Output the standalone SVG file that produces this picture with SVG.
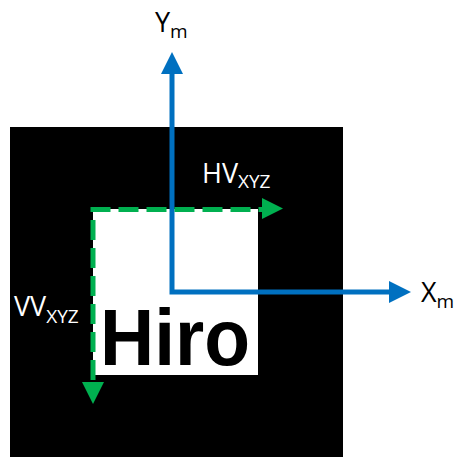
<svg xmlns="http://www.w3.org/2000/svg" width="457" height="457" viewBox="0 0 457 457">
<style>
.lbl{font-family:"Open Sans","Noto Sans",sans-serif;font-size:27px}
.sub{font-size:19px}
.blue{stroke:#0070c0;stroke-width:5;fill:none}
.green{stroke:#00b050;stroke-width:5;fill:none;stroke-dasharray:20 8}
</style>
<rect width="457" height="457" fill="#fff"/>
<g id="marker">
<rect x="10" y="127" width="333" height="330" fill="#000"/>
<rect x="93" y="209" width="165" height="166" fill="#fff"/>
<text x="100" y="365" font-family="'Liberation Sans',Arial,sans-serif" font-weight="bold" font-size="79" textLength="150" lengthAdjust="spacingAndGlyphs" fill="#000">Hiro</text>
</g>
<g id="connectors">
<polyline class="blue" points="172,72 172,292 390,292"/>
<polygon points="172,52 161,74 183,74" fill="#0070c0"/>
<polygon points="411,292 389,281 389,303" fill="#0070c0"/>
<path class="green" d="M93,380 V209.5 H262"/>
<polygon points="283,208.5 262,198 262,219" fill="#00b050"/>
<polygon points="93,404 82,382 104,382" fill="#00b050"/>
</g>
<g id="labels">
<text class="lbl" x="155" y="32" fill="#000">Y<tspan class="sub" dy="6">m</tspan></text>
<text class="lbl" x="421" y="302" fill="#000">X<tspan class="sub" dy="6">m</tspan></text>
<text class="lbl" x="202" y="183" fill="#fff">HV<tspan class="sub" dy="5">XYZ</tspan></text>
<text class="lbl" x="14" y="316" fill="#fff">VV<tspan class="sub" dy="7">XYZ</tspan></text>
</g>
</svg>
